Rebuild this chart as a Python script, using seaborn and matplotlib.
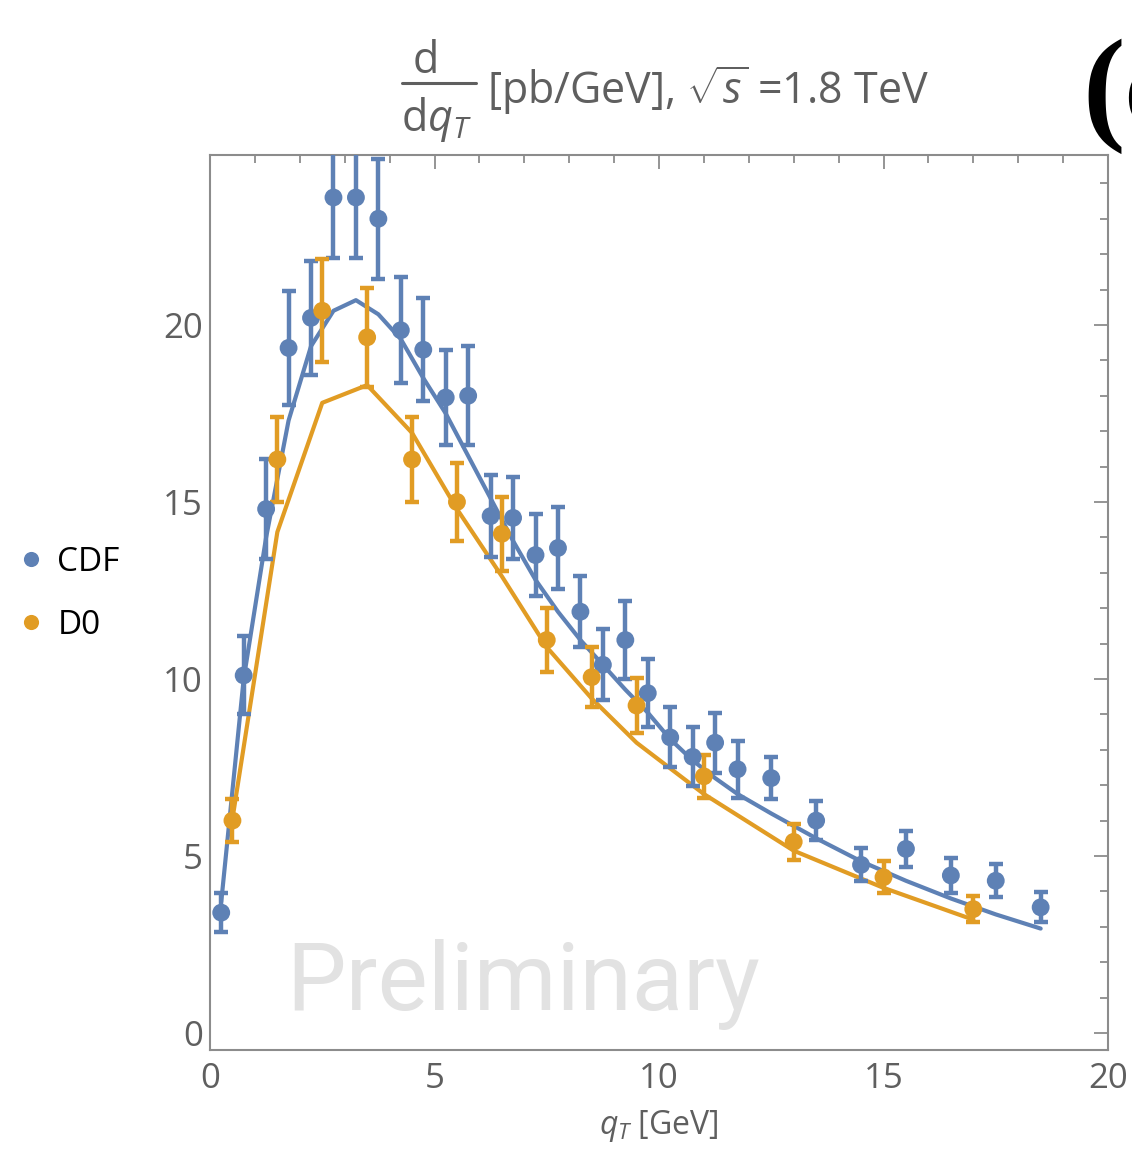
import numpy as np
import pandas as pd
import matplotlib
matplotlib.use("Agg")
import matplotlib.pyplot as plt
import seaborn as sns
from matplotlib.ticker import MultipleLocator
from matplotlib.lines import Line2D

# ---------------- data ----------------
cdf_x = [0.25, 0.75, 1.25, 1.75, 2.25, 2.75, 3.25, 3.75, 4.25, 4.75, 5.25, 5.75,
         6.25, 6.75, 7.25, 7.75, 8.25, 8.75, 9.25, 9.75, 10.25, 10.75, 11.25, 11.75,
         12.5, 13.5, 14.5, 15.5, 16.5, 17.5, 18.5]
cdf_y = [3.4, 10.1, 14.8, 19.35, 20.2, 23.6, 23.6, 23.0, 19.85, 19.3, 17.95, 18.0,
         14.6, 14.55, 13.5, 13.7, 11.9, 10.4, 11.1, 9.6, 8.35, 7.8, 8.2, 7.45,
         7.2, 6.0, 4.75, 5.2, 4.45, 4.3, 3.55]
cdf_err = [0.55, 1.1, 1.4, 1.6, 1.6, 1.7, 1.7, 1.7, 1.5, 1.45, 1.35, 1.4,
           1.15, 1.15, 1.15, 1.15, 1.0, 1.0, 1.1, 0.97, 0.85, 0.83, 0.85, 0.8,
           0.6, 0.55, 0.47, 0.5, 0.5, 0.47, 0.42]
cdf_theory = [3.7, 10.0, 14.0, 17.3, 19.4, 20.4, 20.7, 20.3, 19.6, 18.5, 17.5, 16.3,
              15.1, 13.9, 12.8, 11.9, 11.1, 10.4, 9.7, 9.05, 8.3, 7.7, 7.2, 6.75,
              6.2, 5.5, 4.85, 4.3, 3.8, 3.35, 2.95]

d0_x = [0.5, 1.5, 2.5, 3.5, 4.5, 5.5, 6.5, 7.5, 8.5, 9.5, 11, 13, 15, 17]
d0_y = [6.0, 16.2, 20.4, 19.65, 16.2, 15.0, 14.1, 11.1, 10.05, 9.25, 7.25, 5.4, 4.4, 3.5]
d0_err = [0.6, 1.2, 1.45, 1.4, 1.2, 1.1, 1.05, 0.9, 0.85, 0.78, 0.6, 0.5, 0.45, 0.37]
d0_theory = [6.05, 14.15, 17.8, 18.3, 16.95, 14.8, 12.9, 10.9, 9.45, 8.2, 6.75, 5.15, 4.1, 3.2]

series_names = ["CDF", "D0"]
x_ticks = [0, 5, 10, 15, 20]
y_ticks = [0, 5, 10, 15, 20]

BLUE = "#5E81B5"
ORANGE = "#E19C24"
GRAY_TXT = "#5f5f5f"
FRAME = "#8c8c8c"

# ---------------- style ----------------
sns.set_theme(style="white")
plt.rcParams["font.family"] = ["Open Sans", "DejaVu Sans"]
plt.rcParams["mathtext.fontset"] = "custom"
plt.rcParams["mathtext.rm"] = "Open Sans"
plt.rcParams["mathtext.it"] = "Open Sans:italic"
plt.rcParams["mathtext.bf"] = "Open Sans:bold"

W, H = 1132, 1150
fig = plt.figure(figsize=(W / 100, H / 100), dpi=100)
ax = fig.add_axes([210 / W, 1 - 1050 / H, 898 / W, 895 / H])

pts = pd.DataFrame({
    "qT": cdf_x + d0_x,
    "sigma": cdf_y + d0_y,
    "exp": [series_names[0]] * len(cdf_x) + [series_names[1]] * len(d0_x),
})

# theory curves
sns.lineplot(x=cdf_x, y=cdf_theory, color=BLUE, lw=3.0, ax=ax, sort=False, zorder=2)
sns.lineplot(x=d0_x, y=d0_theory, color=ORANGE, lw=3.0, ax=ax, sort=False, zorder=2)

# error bars
ax.errorbar(cdf_x, cdf_y, yerr=cdf_err, fmt="none", ecolor=BLUE, elinewidth=3.2,
            capsize=5.0, capthick=3.2, zorder=3)
ax.errorbar(d0_x, d0_y, yerr=d0_err, fmt="none", ecolor=ORANGE, elinewidth=3.2,
            capsize=5.0, capthick=3.2, zorder=3)

# points
sns.scatterplot(data=pts, x="qT", y="sigma", hue="exp",
                palette={series_names[0]: BLUE, series_names[1]: ORANGE},
                s=165, edgecolor="none", linewidth=0, ax=ax, zorder=4)

handles, labels = ax.get_legend_handles_labels()
if ax.get_legend() is not None:
    ax.get_legend().remove()

# watermark
ax.text(6.97, 0.65, "Preliminary", ha="center", va="baseline", fontsize=68,
        color="#e2e2e2", family=["Roboto", "DejaVu Sans"], zorder=0)

# axes
ax.set_xlim(0, 20)
ax.set_ylim(-0.48, 24.8)
ax.set_xticks(x_ticks)
ax.set_yticks(y_ticks)
ax.xaxis.set_minor_locator(MultipleLocator(1))
ax.yaxis.set_minor_locator(MultipleLocator(1))
ax.tick_params(which="both", direction="in", top=True, right=True, color=FRAME,
               width=1.3, labelcolor=GRAY_TXT, labelsize=25)
ax.tick_params(which="major", length=10)
ax.tick_params(which="minor", length=6)
ax.tick_params(axis="x", which="major", pad=9)
ax.tick_params(axis="y", which="major", pad=5)
ax.tick_params(axis="x", which="both", labeltop=False)
ax.tick_params(axis="y", which="both", labelright=False)
for sp in ax.spines.values():
    sp.set_color(FRAME)
    sp.set_linewidth(1.5)
ax.grid(False)
ax.set_xlabel(r"$q_T$ [GeV]", fontsize=23, color=GRAY_TXT, labelpad=8)
ax.set_ylabel("")

# title: d / dq_T  [pb/GeV], sqrt(s) = 1.8 TeV
fig.text(426 / W, 1 - 62 / H, "d", ha="center", va="center", fontsize=31, color=GRAY_TXT)
fig.add_artist(Line2D([402 / W, 476 / W], [1 - 83 / H, 1 - 83 / H],
                      transform=fig.transFigure, color=GRAY_TXT, lw=2.2))
fig.text(436 / W, 1 - 120 / H, r"d$q_T$", ha="center", va="center", fontsize=31,
         color=GRAY_TXT)
fig.text(487 / W, 1 - 90 / H, r"[pb/GeV], $\sqrt{s}$ =1.8 TeV", ha="left",
         va="center", fontsize=31, color=GRAY_TXT)

# panel label (cut at the edge, as in the reference)
fig.text(1082 / W, 1 - 96 / H, "(c)", ha="left", va="center", fontsize=92,
         fontweight="bold", color="black",
         family=["Liberation Serif", "DejaVu Serif"])

# legend
fig.legend(handles, labels, loc="center left", bbox_to_anchor=(0.0, 1 - 594 / H),
           frameon=False, fontsize=24, handletextpad=0.3, handlelength=1.0,
           labelspacing=0.9, markerscale=0.85, borderaxespad=0.02,
           labelcolor="black")

fig.savefig("out.png", dpi=100)
